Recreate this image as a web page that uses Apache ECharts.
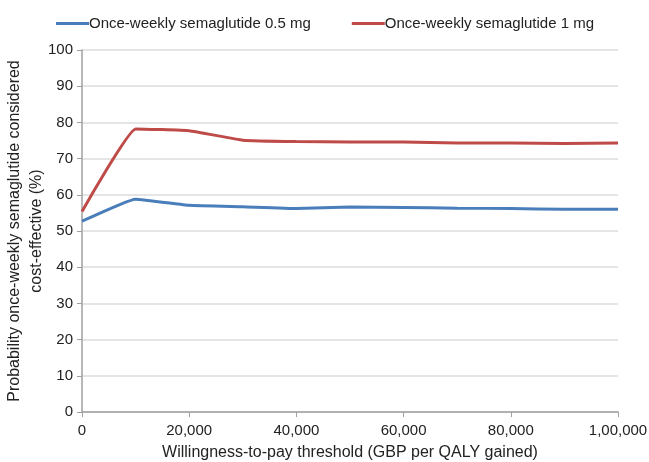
<!DOCTYPE html>
<html><head><meta charset="utf-8">
<script src="https://cdn.jsdelivr.net/npm/echarts@6/dist/echarts.min.js"></script>
<style>html,body{margin:0;padding:0;background:#fff}#c{width:649px;height:462px}</style>
</head><body><div id="c"></div>
<script>
var thresholds = [0,10000,20000,30000,40000,50000,60000,70000,80000,90000,100000];
var sema05 = [52.7,58.8,57.1,56.7,56.2,56.6,56.5,56.3,56.2,56.0,56.0];
var sema1 = [55.4,78.2,77.7,75.1,74.7,74.6,74.6,74.3,74.3,74.2,74.3];
var xTickLabels = {0:'0',20000:'20,000',40000:'40,000',60000:'60,000',80000:'80,000',100000:'1,00,000'};
var seriesNames = ['Once-weekly semaglutide 0.5 mg','Once-weekly semaglutide 1 mg'];
var font = 'Liberation Sans, Arial, sans-serif';
var chart = echarts.init(document.getElementById('c'));
function pts(arr){return thresholds.map(function(x,i){return [x,arr[i]];});}
chart.setOption({
  animation:false,
  textStyle:{fontFamily:font},
  legend:{top:11,left:51,itemGap:41,itemWidth:33,itemHeight:3,icon:'rect',
    textStyle:{fontSize:15,color:'#222',fontFamily:font,padding:[0,0,0,-5]},
    data:seriesNames},
  grid:{left:82,right:31,top:50,bottom:50,outerBoundsMode:'none',containLabel:false},
  xAxis:{type:'value',min:0,max:100000,interval:20000,
    name:'Willingness-to-pay threshold (GBP per QALY gained)',nameLocation:'middle',nameGap:33,
    nameMoveOverlap:false,
    nameTextStyle:{fontSize:16,color:'#222',fontFamily:font},
    axisLine:{lineStyle:{color:'#a0a0a0',width:1.5}},
    axisTick:{show:true,length:5,lineStyle:{color:'#a0a0a0'}},
    axisLabel:{fontSize:15,color:'#222',margin:11,formatter:function(v){return xTickLabels[v]!==undefined?xTickLabels[v]:'';}},
    splitLine:{show:false}},
  yAxis:{type:'value',min:0,max:100,interval:10,
    name:'Probability once-weekly semaglutide considered\ncost-effective (%)',nameLocation:'middle',nameGap:34,
    nameMoveOverlap:false,
    nameTextStyle:{fontSize:16,color:'#222',fontFamily:font,lineHeight:22},
    axisLine:{show:true,lineStyle:{color:'#a0a0a0',width:1.5}},
    axisTick:{show:true,length:5,lineStyle:{color:'#a0a0a0'}},
    axisLabel:{fontSize:15,color:'#222',margin:9},
    splitLine:{lineStyle:{color:'#dcdcdc',width:1.5}}},
  series:[
    {name:seriesNames[0],type:'line',data:pts(sema05),showSymbol:false,smooth:0.1,
      lineStyle:{color:'#4a7ebb',width:3},itemStyle:{color:'#4a7ebb'}},
    {name:seriesNames[1],type:'line',data:pts(sema1),showSymbol:false,smooth:0.1,
      lineStyle:{color:'#be4b48',width:3},itemStyle:{color:'#be4b48'}}
  ]
});
</script></body></html>
